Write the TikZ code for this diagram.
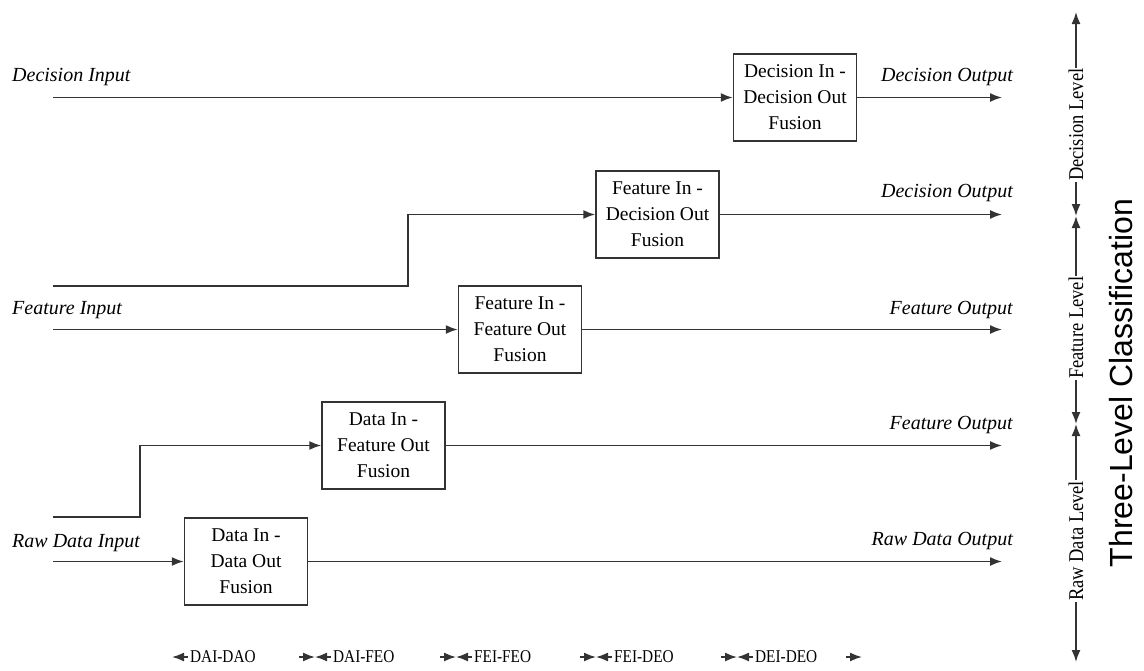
\documentclass[tikz,border=0pt]{standalone}
\usepackage{fontspec}
\setmainfont{Liberation Serif}
\newfontfamily\arialfont{Liberation Sans}
\usetikzlibrary{arrows.meta}
\begin{document}
\begin{tikzpicture}[x=1pt,y=-1pt,
  fbox/.style={draw=black!80, line width=1.5pt, minimum width=123pt, minimum height=87pt, inner sep=0pt, align=center, font=\fontsize{19.5}{26}\selectfont},
  conn/.style={draw=black!80, line width=1.6pt},
  tip/.style={-{Latex[length=12pt,width=9pt]}},
  arr/.style={conn, tip},
  biarr/.style={conn, {Latex[length=12pt,width=9pt]}-{Latex[length=12pt,width=9pt]}},
  lab/.style={font=\fontsize{20}{24}\selectfont\itshape, inner sep=0pt},
  lvl/.style={font=\fontsize{21}{24}\selectfont, rotate=90, xscale=0.88, fill=white, inner sep=1pt, anchor=west},
  leg/.style={font=\fontsize{18}{20}\selectfont, xscale=0.85, inner sep=0pt, anchor=west}
]
\useasboundingbox (0,0) rectangle (1144,670);

% fusion boxes
\node[fbox] (dao) at (246,561.5) {Data In -\\Data Out\\Fusion};
\node[fbox] (dfo) at (383.5,445.5) {Data In -\\Feature Out\\Fusion};
\node[fbox] (ffo) at (520,329.5) {Feature In -\\Feature Out\\Fusion};
\node[fbox] (fdo) at (657.5,214.5) {Feature In -\\Decision Out\\Fusion};
\node[fbox] (ddo) at (795,97.5) {Decision In -\\Decision Out\\Fusion};

% input / output labels
\node[lab, anchor=west] (decin) at (12,77) {Decision Input};
\node[lab, anchor=west] (featin) at (12,310) {Feature Input};
\node[lab, anchor=west] (rawin) at (12,543) {Raw Data Input};
\node[lab, anchor=east] (decout1) at (1013,77) {Decision Output};
\node[lab, anchor=east] (decout2) at (1013,193) {Decision Output};
\node[lab, anchor=east] (featout1) at (1013,310) {Feature Output};
\node[lab, anchor=east] (featout2) at (1013,425) {Feature Output};
\node[lab, anchor=east] (rawout) at (1013,541) {Raw Data Output};

% inputs
\coordinate (ddoin) at (53,97.5);
\coordinate (fdoin) at (53,286);
\coordinate (ffoin) at (53,329.5);
\coordinate (dfoin) at (53,517);
\coordinate (daoin) at (53,561.5);
\draw[arr] (ddoin) -- (ddo.west);
\draw[arr] (fdoin) -- ++(355,0) |- (fdo.west);
\draw[arr] (ffoin) -- (ffo.west);
\draw[arr] (dfoin) -- ++(87,0) |- (dfo.west);
\draw[arr] (daoin) -- (dao.west);

% outputs
\coordinate (ddoout) at (1002,97.5);
\coordinate (fdoout) at (1002,214.5);
\coordinate (ffoout) at (1002,329.5);
\coordinate (dfoout) at (1002,445.5);
\coordinate (daoout) at (1002,561.5);
\draw[arr] (ddo.east) -- (ddoout);
\draw[arr] (fdo.east) -- (fdoout);
\draw[arr] (ffo.east) -- (ffoout);
\draw[arr] (dfo.east) -- (dfoout);
\draw[arr] (dao.east) -- (daoout);

% three-level axis
\coordinate (ax0) at (1076,12);
\coordinate (ax1) at (1076,216);
\coordinate (ax2) at (1076,424);
\coordinate (ax3) at (1076,662);
\draw[biarr] (ax1) -- (ax0);
\draw[biarr] (ax2) -- (ax1);
\draw[biarr] (ax3) -- (ax2);
\node[lvl] (declvl) at (1076,182) {Decision Level};
\node[lvl] (featlvl) at (1076,380) {Feature Level};
\node[lvl] (rawlvl) at (1076,602) {Raw Data Level};
\node[font=\arialfont\fontsize{32}{36}\selectfont, rotate=90, inner sep=0pt] (three) at (1121,383) {Three-Level Classification};

% Dasarathy legend
\coordinate (l0) at (172,657);   \coordinate (l0s) at (188,657);
\coordinate (b1) at (315,657);   \coordinate (b1a) at (299,657); \coordinate (b1b) at (331,657);
\coordinate (b2) at (456,657);   \coordinate (b2a) at (440,657); \coordinate (b2b) at (472,657);
\coordinate (b3) at (596,657);   \coordinate (b3a) at (580,657); \coordinate (b3b) at (612,657);
\coordinate (b4) at (737,657);   \coordinate (b4a) at (721,657); \coordinate (b4b) at (753,657);
\coordinate (l5) at (862,657);   \coordinate (l5s) at (846,657);
\draw[arr] (l0s) -- (l0);
\draw[arr] (b1a) -- (b1); \draw[arr] (b1b) -- (b1);
\draw[arr] (b2a) -- (b2); \draw[arr] (b2b) -- (b2);
\draw[arr] (b3a) -- (b3); \draw[arr] (b3b) -- (b3);
\draw[arr] (b4a) -- (b4); \draw[arr] (b4b) -- (b4);
\draw[arr] (l5s) -- (l5);
\node[leg] (daidao) at (190,657) {DAI-DAO};
\node[leg] (daifeo) at (333,657) {DAI-FEO};
\node[leg] (feifeo) at (474,657) {FEI-FEO};
\node[leg] (feideo) at (614,657) {FEI-DEO};
\node[leg] (deideo) at (755,657) {DEI-DEO};
\end{tikzpicture}
\end{document}
